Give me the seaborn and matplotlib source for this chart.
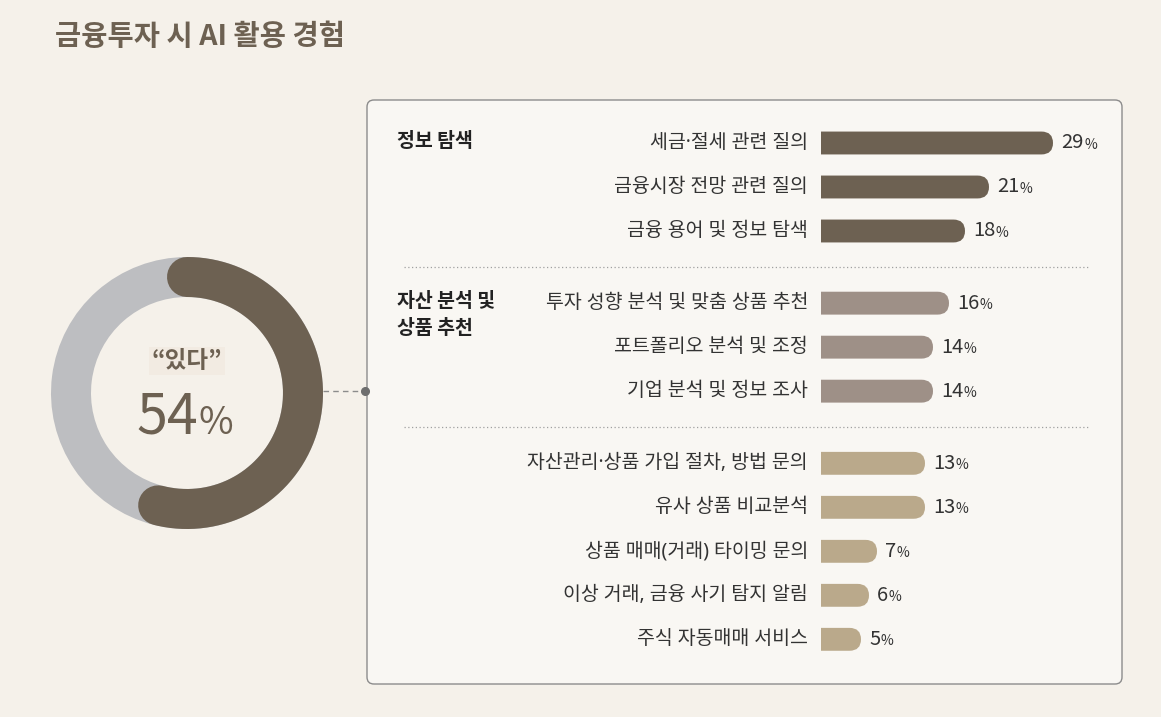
import numpy as np
import pandas as pd
import matplotlib
matplotlib.use("Agg")
import matplotlib.pyplot as plt
from matplotlib.patches import FancyBboxPatch
from matplotlib.lines import Line2D
import seaborn as sns

sns.set_theme(style="white")
plt.rcParams["font.family"] = ["Noto Sans CJK KR", "DejaVu Sans"]
LATIN_FIRST = ["Noto Sans", "Noto Sans CJK KR"]   # point médian étroit

# ── Données ──────────────────────────────────────────────────
TITLE       = "금융투자 시 AI 활용 경험"
DONUT_LABEL = "\u201c있다\u201d"
YES_PCT     = 54
NO_PCT      = 46

GROUP_NAMES = ["정보 탐색", "자산 분석 및\n상품 추천", ""]
ITEMS = ["세금·절세 관련 질의", "금융시장 전망 관련 질의", "금융 용어 및 정보 탐색",
         "투자 성향 분석 및 맞춤 상품 추천", "포트폴리오 분석 및 조정", "기업 분석 및 정보 조사",
         "자산관리·상품 가입 절차, 방법 문의", "유사 상품 비교분석", "상품 매매(거래) 타이밍 문의",
         "이상 거래, 금융 사기 탐지 알림", "주식 자동매매 서비스"]
VALUES   = [29, 21, 18, 16, 14, 14, 13, 13, 7, 6, 5]
GROUP_OF = [0, 0, 0, 1, 1, 1, 2, 2, 2, 2, 2]

# ── Style ────────────────────────────────────────────────────
BG       = "#F5F1EA"
PANEL    = "#F9F7F3"
DARK     = "#6D6152"
COLORS   = ["#6D6152", "#9E9087", "#BAA98B"]
RING     = "#BDBEC1"
TXT      = "#333333"
W, H     = 1161, 717
PX_PCT   = 8.0      # pixels par %
ROW_PX   = 44.0     # pixels par ligne
GAP      = 0.64     # espace entre groupes (en lignes)

def fx(x): return x / W
def fy(y): return 1 - y / H

fig = plt.figure(figsize=(W / 100, H / 100), dpi=100)
fig.patch.set_facecolor(BG)

# titre
fig.text(fx(55), fy(37), TITLE, fontsize=20.5, weight="bold", color=DARK, va="center")

# panneau
panel = FancyBboxPatch((fx(367), fy(684)), fx(1122 - 367), (684 - 100) / H,
                       boxstyle="round,pad=0,rounding_size=0.006", mutation_aspect=W / H,
                       transform=fig.transFigure, fc=PANEL, ec="#8C8C8C", lw=1, zorder=-1)
fig.add_artist(panel)

# ── Barres ───────────────────────────────────────────────────
pos = np.arange(len(VALUES)) + GAP * np.array(GROUP_OF)
df = pd.DataFrame({"item": ITEMS, "value": VALUES, "pos": pos, "group": GROUP_OF})

ax = fig.add_axes([fx(821), fy(684), (1110 - 821) / W, (684 - 100) / H])
sns.barplot(data=df, x="value", y="pos", hue="group", palette=COLORS, orient="h",
            native_scale=True, width=0.52, dodge=False, saturation=1, legend=False, ax=ax)
ax.set_xlim(0, (1110 - 821) / PX_PCT)
ax.set_ylim((684 - 143) / ROW_PX, (100 - 143) / ROW_PX)
ax.axis("off")
ax.patch.set_alpha(0)

# barres arrondies à droite
rx = 11.5 / PX_PCT
for p in list(ax.patches):
    x0, y0, w, h = p.get_x(), p.get_y(), p.get_width(), p.get_height()
    fc = p.get_facecolor()
    p.remove()
    ax.add_patch(FancyBboxPatch((x0 - rx, y0), w + rx, h,
                                boxstyle=f"round,pad=0,rounding_size={rx}",
                                mutation_aspect=abs(h) / 2 / rx, fc=fc, ec="none"))

for v, yp, label in zip(VALUES, pos, ITEMS):
    ax.text(-13 / PX_PCT, yp, label, ha="right", va="center", fontsize=14, color=TXT,
            family=LATIN_FIRST)
    t = ax.text(v + 1.0, yp, str(v), ha="left", va="center", fontsize=14.5, color=TXT)
    ax.annotate("%", xy=(1, 0), xycoords=t, xytext=(0.5, 1), textcoords="offset points",
                ha="left", va="bottom", fontsize=10, color=TXT)

# catégories
for g, name in enumerate(GROUP_NAMES):
    if not name:
        continue
    first = pos[GROUP_OF.index(g)]
    ax.text((397 - 821) / PX_PCT, first - 11 / ROW_PX, name, ha="left", va="top",
            fontsize=14, weight="bold", color="#222222", linespacing=1.55)

# séparateurs pointillés
for g in range(1, len(COLORS)):
    i = GROUP_OF.index(g)
    ysep = (pos[i - 1] + pos[i]) / 2
    ax.plot([(404 - 821) / PX_PCT, (1090 - 821) / PX_PCT], [ysep, ysep],
            color="#A0A0A0", lw=0.9, ls=(0, (1, 2)), clip_on=False)

# ── Donut ────────────────────────────────────────────────────
ax2 = fig.add_axes([fx(37), fy(543), 300 / W, 300 / H])
ring_w = 40 / 136
ax2.pie([YES_PCT, NO_PCT], colors=[RING, RING], radius=1, startangle=90,
        counterclock=False, wedgeprops=dict(width=ring_w, edgecolor="none"))
theta = np.deg2rad(np.linspace(90, 90 - 360 * YES_PCT / 100, 300))
rm = 1 - ring_w / 2
ax2.plot(rm * np.cos(theta), rm * np.sin(theta), color=DARK, lw=40 * 0.72,
         solid_capstyle="round", clip_on=False)
lim = 150 / 136
ax2.set_xlim(-lim, lim)
ax2.set_ylim(-lim, lim)
ax2.set_aspect("equal")
ax2.axis("off")

fig.text(fx(187), fy(361), DONUT_LABEL, ha="center", va="center", fontsize=17,
         weight="bold", color=DARK,
         bbox=dict(boxstyle="square,pad=0.1", fc="#F2EBE2", ec="none"))
fig.text(fx(198), fy(434), str(YES_PCT), ha="right", va="baseline", fontsize=40, color=DARK)
fig.text(fx(199), fy(434), "%", ha="left", va="baseline", fontsize=27, color=DARK)

# connecteur
fig.add_artist(Line2D([fx(323), fx(365)], [fy(391), fy(391)], color="#8C8C8C",
                      lw=1, ls=(0, (4, 3)), transform=fig.transFigure))
fig.add_artist(Line2D([fx(365)], [fy(391)], marker="o", markersize=5.5, color="#6E6E6E",
                      transform=fig.transFigure))

fig.savefig("out.png", dpi=100, facecolor=BG)
plt.close(fig)
